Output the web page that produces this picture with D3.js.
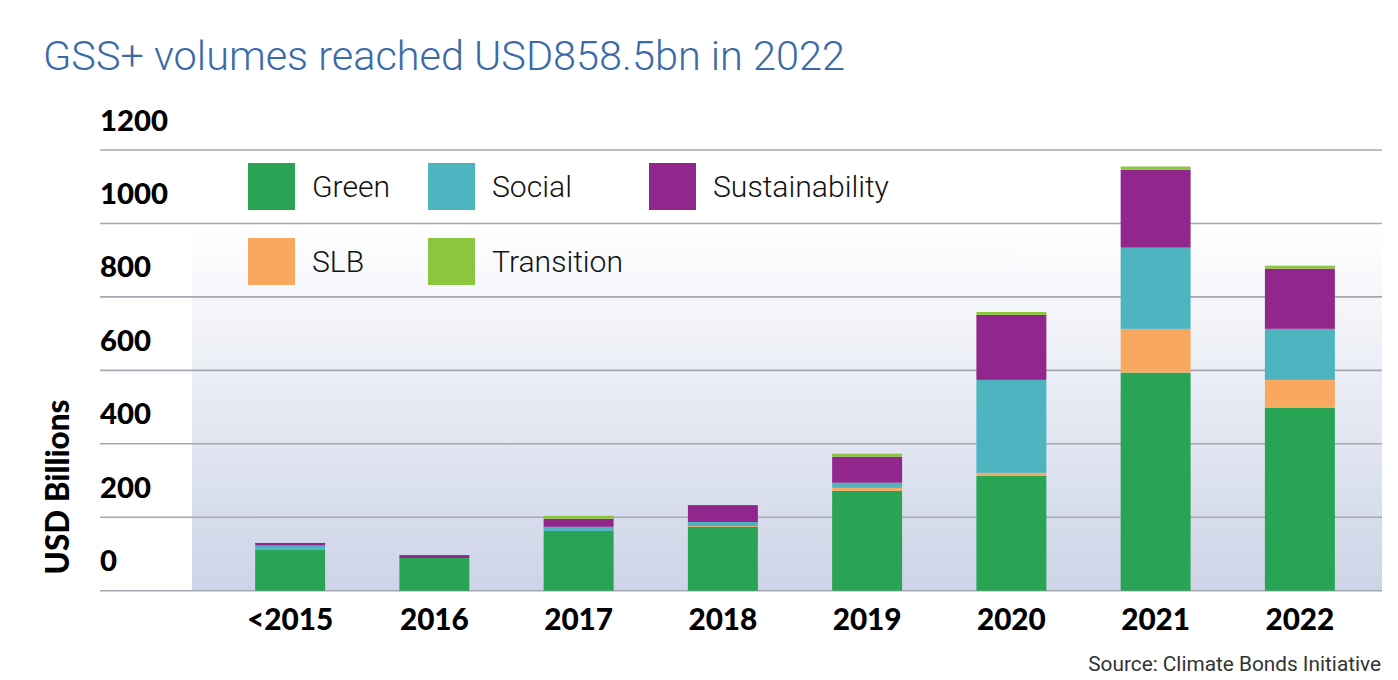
<!DOCTYPE html>
<html>
<head>
<meta charset="utf-8">
<script src="https://cdn.jsdelivr.net/npm/d3@7"></script>
<style>
  html, body { margin: 0; padding: 0; background: #fff; }
  svg { display: block; }
</style>
</head>
<body>
<div id="chart"></div>
<script>
// values, USD billions
const categories = ['<2015', '2016', '2017', '2018', '2019', '2020', '2021', '2022'];
const green = [111, 89, 163, 174, 272, 313, 594, 498];
const slb = [0, 0, 0, 2, 8, 8, 119, 76];
const social = [12, 0, 11, 11, 14, 253, 221, 139];
const sustainability = [7, 8, 22, 46, 71, 177, 212, 164];
const transition = [0, 0, 8, 0, 8, 8, 9, 8];
const yTicks = [0, 200, 400, 600, 800, 1000, 1200];

const seriesKeys = ['Green', 'SLB', 'Social', 'Sustainability', 'Transition'];
const seriesValues = { Green: green, SLB: slb, Social: social, Sustainability: sustainability, Transition: transition };
const colors = {
    Green: '#29a354',
    Social: '#4eb4c0',
    Sustainability: '#91278d',
    SLB: '#f9a95f',
    Transition: '#8cc63f',
};
// legend order as in the picture
const legendOrder = [['Green', 'Social', 'Sustainability'], ['SLB', 'Transition']];

const width = 1398, height = 680;
const boldFont = 'Lato, "Noto Sans", sans-serif';
const lightFont = 'Roboto, "Noto Sans", sans-serif';

const svg = d3.select('#chart').append('svg')
    .attr('width', width)
    .attr('height', height);

// shrink or grow a text so that it covers the wanted width
function fitText(sel, target)
{
    const node = sel.node();
    const size = parseFloat(sel.attr('font-size'));
    const w = node.getComputedTextLength();
    if (w > 0) sel.attr('font-size', size * target / w);
    return sel;
}

const rows = categories.map((c, i) => {
    const row = { category: c };
    seriesKeys.forEach(k => row[k] = seriesValues[k][i]);
    return row;
});
const stacked = d3.stack().keys(seriesKeys)(rows);

const x = d3.scaleBand()
    .domain(categories)
    .range([218, 1372])
    .paddingInner(0.515)
    .paddingOuter(0.2575);

const y = d3.scaleLinear()
    .domain([0, 1200])
    .range([590.7, 150]);

// shaded plot background
const defs = svg.append('defs');
const grad = defs.append('linearGradient')
    .attr('id', 'bg')
    .attr('x1', 0).attr('y1', 0).attr('x2', 0).attr('y2', 1);
grad.append('stop').attr('offset', '0%').attr('stop-color', '#ffffff');
grad.append('stop').attr('offset', '100%').attr('stop-color', '#cdd4e7');

svg.append('rect')
    .attr('x', 192)
    .attr('y', y(1000))
    .attr('width', 1382 - 192)
    .attr('height', y(0) - y(1000))
    .attr('fill', 'url(#bg)');

// grid lines
svg.append('g')
    .selectAll('line')
    .data(yTicks)
    .enter()
        .append('line')
            .attr('x1', 100)
            .attr('x2', 1382)
            .attr('y1', d => y(d))
            .attr('y2', d => y(d))
            .attr('stroke', '#a7a7b3')
            .attr('stroke-width', 1.6);

// y tick labels sit above their lines in the original
const yLabels = svg.append('g')
    .selectAll('text')
    .data(yTicks)
    .enter()
        .append('text')
            .attr('x', 100)
            .attr('y', d => y(d) - 30)
            .attr('dy', '0.36em')
            .attr('font-family', boldFont)
            .attr('font-weight', 900)
            .attr('font-size', 28)
            .attr('fill', '#000')
            .text(d => d);
const lbl1200 = yLabels.filter(d => d === 1200);
fitText(lbl1200, 68);
yLabels.attr('font-size', lbl1200.attr('font-size'));

// stacked bars
svg.append('g')
    .selectAll('g')
    .data(stacked)
    .enter()
        .append('g')
            .attr('fill', s => colors[s.key])
            .selectAll('rect')
            .data(s => s)
            .enter()
                .append('rect')
                    .attr('x', d => x(d.data.category))
                    .attr('width', x.bandwidth())
                    .attr('y', d => y(d[1]))
                    .attr('height', d => y(d[0]) - y(d[1]));

// x labels
const xLabels = svg.append('g')
    .selectAll('text')
    .data(categories)
    .enter()
        .append('text')
            .attr('x', d => x(d) + x.bandwidth() / 2)
            .attr('y', 619)
            .attr('dy', '0.36em')
            .attr('text-anchor', 'middle')
            .attr('font-family', boldFont)
            .attr('font-weight', 900)
            .attr('font-size', 28)
            .attr('fill', '#000')
            .text(d => d);
const lbl2022 = xLabels.filter(d => d === '2022');
fitText(lbl2022, 69);
xLabels.attr('font-size', lbl2022.attr('font-size'));

// y axis title
const yTitle = svg.append('text')
    .attr('transform', 'translate(58, 487) rotate(-90)')
    .attr('text-anchor', 'middle')
    .attr('dy', '0.36em')
    .attr('font-family', boldFont)
    .attr('font-weight', 900)
    .attr('font-size', 26)
    .attr('fill', '#000')
    .text('USD Billions');
fitText(yTitle, 175);

// legend
const legendCols = [248, 428, 649];
const legendRows = [163, 238];
const swatch = 47;
const legendItems = [];
legendOrder.forEach((row, r) => row.forEach((key, c) => legendItems.push({ key, r, c })));

const legend = svg.append('g')
    .selectAll('g')
    .data(legendItems)
    .enter()
        .append('g')
            .attr('transform', d => `translate(${legendCols[d.c]}, ${legendRows[d.r]})`);
legend.append('rect')
    .attr('width', swatch)
    .attr('height', swatch)
    .attr('fill', d => colors[d.key]);
const legendText = legend.append('text')
    .attr('x', 64)
    .attr('y', swatch / 2)
    .attr('dy', '0.36em')
    .attr('font-family', lightFont)
    .attr('font-weight', 300)
    .attr('font-size', 29)
    .attr('fill', '#111')
    .text(d => d.key);
const lblSust = legendText.filter(d => d.key === 'Sustainability');
fitText(lblSust, 176);
legendText.attr('font-size', lblSust.attr('font-size'));

// title
const title = svg.append('text')
    .attr('x', 43)
    .attr('y', 70)
    .attr('font-family', lightFont)
    .attr('font-weight', 300)
    .attr('font-size', 46)
    .attr('fill', '#3a6aa8')
    .text('GSS+ volumes reached USD858.5bn in 2022');
fitText(title, 802);

// source
const source = svg.append('text')
    .attr('x', 1381)
    .attr('y', 664)
    .attr('dy', '0.36em')
    .attr('text-anchor', 'end')
    .attr('font-family', lightFont)
    .attr('font-size', 20)
    .attr('fill', '#333')
    .text('Source: Climate Bonds Initiative');
fitText(source, 293);
</script>
</body>
</html>
